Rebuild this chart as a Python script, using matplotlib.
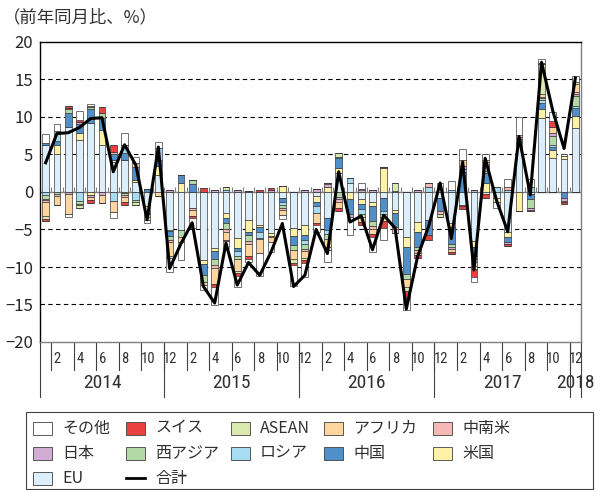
import numpy as np
import matplotlib
matplotlib.use("Agg")
import matplotlib.pyplot as plt
from matplotlib import font_manager
from matplotlib.patches import Rectangle
from matplotlib.lines import Line2D
import matplotlib.transforms as mtransforms

plt.rcParams['font.family'] = ['Noto Sans CJK JP', 'DejaVu Sans']

# narrow face for the category axis, if one is installed
installed = {f.name for f in font_manager.fontManager.ttflist}
narrow = 'Noto Sans CJK JP'
for cand in ['Liberation Sans Narrow', 'DejaVu Sans Condensed', 'Roboto Condensed']:
    if cand in installed:
        narrow = cand
        break

# months: Jan 2014 .. Dec 2017 (48 bars)
n_months = 48
month_labels = [str(i % 12 + 1) if (i % 12 + 1) % 2 == 0 else '' for i in range(n_months)]
years = ['2014', '2015', '2016', '2017', '2018']
year_edges = [-0.5, 10.5, 22.5, 34.5, 46.5, 47.5]

# contributions (percentage points), series listed from the bottom of the stack
eu = [6.2, 5.0, 8.7, 6.9, 9.2, 6.3, 4.0, 4.2, 1.3, -1.9, 2.3, -5.1,
      -5.1, -2.2, -9.1, -7.5, -2.8, -6.2, -3.7, -4.4, -5.5, -0.8, -4.8, -4.4,
      -0.5, -3.5, 2.5, 1.2, -0.9, -1.3, -0.8, -2.4, -6.0, -4.0, -3.7, -0.8,
      -4.2, -1.7, -6.6, -0.3, -0.8, -5.3, 6.7, -0.3, 9.8, 4.5, 4.4, 8.5]
usa = [0.0, 1.2, 0.0, 0.9, -0.4, 2.0, 0.2, -0.2, 0.3, -0.9, 1.2, -0.1,
       1.2, 0.0, -0.5, -0.4, -0.7, -1.3, -1.6, -0.3, -0.4, 0.8, -1.1, -1.3,
       -0.8, 0.7, 0.7, -1.0, -0.7, -0.6, 3.2, -0.4, -1.3, -1.3, 0.0, 0.0,
       -0.5, 0.0, -0.7, 1.2, -0.6, -0.7, -2.6, 0.0, 1.3, 1.1, 0.4, 1.6]
china = [0.3, 0.6, 1.8, 1.3, 1.8, 1.6, 0.9, 1.0, 1.7, 0.35, 0.7, -0.7,
         1.0, 1.1, -1.5, -1.1, -0.6, -0.4, -0.5, -0.7, 0.0, -0.5, -1.2, -0.7,
         -0.6, -1.6, 1.3, -2.0, -0.7, -2.0, -1.8, -1.9, -3.6, -2.0, -2.0, -1.8,
         -2.2, 2.7, -1.3, 1.3, 0.0, -0.7, 0.3, -0.6, 0.7, 0.4, -0.8, 1.1]
russia = [-0.4, 1.3, 0.0, -1.2, 0.0, 0.0, -1.2, 1.0, -1.1, 0.0, 1.6, 0.0,
          0.0, 0.0, 0.0, 0.0, 0.3, -0.7, 0.0, -0.7, 0.0, -0.5, 0.0, -0.5,
          -0.9, -0.5, 0.1, 0.6, -0.7, 0.0, -0.3, 0.0, 0.0, 0.0, 0.7, 0.0,
          0.3, 0.4, 0.0, 0.0, 0.6, 0.3, 0.0, 0.7, 0.4, 0.2, 0.0, 0.3]
west_asia = [-0.5, -0.3, 0.5, -0.4, 0.3, 0.6, 0.0, -0.2, -0.2, 0.0, 0.0, -0.5,
             -0.9, 0.5, -0.9, -0.7, -0.9, -0.3, -0.8, 0.0, -0.1, -0.3, -0.6, -0.7,
             0.0, -0.7, -0.7, 0.0, -0.4, -0.7, -0.5, 0.0, -0.7, -0.5, 0.0, 0.0,
             -0.4, 0.0, -0.4, 0.3, 0.0, 0.0, 0.0, -1.3, 0.3, 1.3, 0.0, 1.3]
japan = [-0.2, 0.0, -0.3, 0.2, -0.3, -0.4, 0.0, 0.0, 0.0, -0.2, 0.0, 0.25,
         0.1, 0.0, 0.0, 0.2, 0.0, 0.2, 0.1, -0.2, 0.2, 0.0, 0.0, 0.3,
         0.4, 0.3, -0.2, -0.3, 0.2, 0.3, 0.1, 0.1, 0.0, 0.2, 0.0, 0.0,
         -0.3, 0.4, 0.2, 0.6, 0.0, -0.2, 0.3, -0.2, 0.2, 0.3, -0.4, 0.2]
latin_america = [-0.3, -0.2, 0.2, -0.2, 0.2, 0.0, 0.2, -0.3, 0.0, 0.0, 0.0, -0.3,
                 0.0, -0.2, 0.0, -0.4, -0.3, 0.0, -0.3, 0.0, 0.0, -0.3, 0.0, -0.3,
                 0.0, 0.2, -0.4, 0.0, 0.2, -0.3, 0.0, -0.2, 0.0, -0.3, 0.5, -0.4,
                 0.0, -0.2, -0.4, 0.6, 0.0, 0.3, 0.3, -0.2, 0.0, 0.0, -0.2, 0.3]
africa = [-1.8, -1.2, -2.7, 0.0, -0.4, -1.1, -1.5, -0.6, 0.6, -0.4, -0.6, -1.8,
          -0.7, -0.8, -0.4, -2.2, -1.1, -1.6, -1.6, -1.8, -0.7, -0.7, -1.3, -0.9,
          -1.3, -1.1, -0.9, 0.0, -0.6, -0.7, -0.5, -0.6, -1.1, -0.3, 0.0, 0.0,
          -0.4, 0.7, -0.5, 0.3, 0.0, 0.0, 0.0, 0.0, 0.4, 0.9, 0.0, 1.1]
asean = [-0.4, 0.0, 0.0, -0.3, 0.0, 0.0, 0.0, 0.0, -0.4, -0.3, 0.0, -0.3,
         0.0, 0.0, 0.0, 0.0, 0.4, -0.3, 0.0, 0.0, 0.0, 0.0, -0.5, -0.3,
         0.0, -0.3, 0.6, 0.0, 0.0, 0.0, 0.0, 1.1, -0.5, 0.0, 0.0, -0.3,
         0.0, 0.0, -0.4, 0.0, 0.0, 0.0, 0.0, 0.0, 4.0, 0.0, 0.0, 0.3]
swiss = [-0.3, 0.0, 0.2, 0.3, -0.4, 0.8, 0.9, -0.4, 0.0, 0.0, 0.0, 0.0,
         0.0, -0.3, 0.5, -0.4, -0.2, -0.4, -0.4, 0.2, 0.3, 0.0, -0.3, -0.4,
         -0.3, 0.0, -0.4, 0.0, -0.4, -0.4, -0.9, 0.0, -0.9, -0.4, -0.7, 0.0,
         -0.3, -0.4, -1.0, -0.5, 0.0, -0.3, 0.0, 0.0, 0.1, 0.7, -0.2, 0.0]
others = [1.2, 0.9, -0.3, 1.2, 0.2, 0.0, -0.8, 1.6, 0.8, -0.5, 0.9, -1.9,
          -2.4, -1.3, -0.7, -2.4, -0.9, -1.5, -0.4, -3.1, -1.3, -0.5, -2.8, -1.8,
          -1.0, -1.6, 0.0, -2.4, 0.8, -2.0, -1.6, 0.0, -1.6, 0.0, 0.0, 1.2,
          1.2, 1.5, -0.7, 0.8, -0.8, 1.1, 2.4, 1.0, 0.5, 1.2, 0.3, 0.7]
total = [3.9, 7.8, 7.9, 8.6, 9.8, 9.9, 2.7, 6.3, 3.6, -3.7, 6.0, -10.2,
         -6.9, -4.1, -12.6, -14.8, -6.8, -12.4, -9.4, -11.1, -8.0, -4.2, -12.6, -11.1,
         -5.0, -8.2, 2.7, -4.0, -3.2, -7.7, -3.1, -4.8, -15.6, -8.6, -4.5, 1.2,
         -6.2, 4.0, -10.4, 4.5, -1.1, -5.3, 7.4, -0.4, 17.3, 10.8, 5.8, 15.2]

series = [
    ('EU', eu, '#dbeefa'),
    ('米国', usa, '#fff2a6'),
    ('中国', china, '#4f8fca'),
    ('ロシア', russia, '#a8dcf3'),
    ('西アジア', west_asia, '#b3d9a6'),
    ('日本', japan, '#d2acd4'),
    ('中南米', latin_america, '#f5b8b5'),
    ('アフリカ', africa, '#fcd59f'),
    ('ASEAN', asean, '#d9e9b0'),
    ('スイス', swiss, '#e8413f'),
    ('その他', others, '#ffffff'),
]

fig = plt.figure(figsize=(5.95, 4.9), dpi=100)
ax = fig.add_axes([40 / 595, 148 / 490, 541 / 595, 300 / 490])

x = np.arange(n_months)
pos_base = np.zeros(n_months)
neg_base = np.zeros(n_months)
for name, vals, col in series:
    v = np.array(vals, dtype=float)
    p = np.where(v > 0, v, 0)
    q = np.where(v < 0, v, 0)
    ax.bar(x, p, 0.6, bottom=pos_base, color=col, edgecolor='#3a3a3a', linewidth=0.5, zorder=3)
    ax.bar(x, q, 0.6, bottom=neg_base, color=col, edgecolor='#3a3a3a', linewidth=0.5, zorder=3)
    pos_base += p
    neg_base += q

ax.plot(x, total, color='black', linewidth=2.2, zorder=5)

# grid and frame
for yv in [-15, -10, -5, 5, 10, 15]:
    ax.axhline(yv, color='black', linewidth=0.8, linestyle=(0, (4, 3)), zorder=1)
ax.axhline(0, color='#7f7f7f', linewidth=1.0, zorder=2)
ax.vlines(np.arange(n_months + 1) - 0.5, 0, 0.6, color='#7f7f7f', linewidth=0.8, zorder=2)

ax.set_xlim(-0.5, n_months - 0.5)
ax.set_ylim(-20, 20)
ax.set_yticks(np.arange(-20, 21, 5))
ax.tick_params(axis='y', length=0, labelsize=12, pad=5, labelcolor='#262626')
ax.set_xticks([])
ax.spines['top'].set_color('black')
ax.spines['left'].set_color('black')
ax.spines['right'].set_color('#7f7f7f')
ax.spines['bottom'].set_color('#7f7f7f')
for s in ax.spines.values():
    s.set_linewidth(1.0)

# category axis below the plot
trans = mtransforms.blended_transform_factory(ax.transData, ax.transAxes)
for i, lab in enumerate(month_labels):
    if lab:
        ax.plot([i - 0.5, i - 0.5], [0, -0.093], transform=trans, color='#404040',
                linewidth=0.8, clip_on=False)
        ax.text(i + 0.05, -0.058, lab, transform=trans, ha='center', va='center',
                fontsize=10.5, family=narrow, color='#303030')
for e in year_edges:
    ax.plot([e, e], [0, -0.183], transform=trans, color='#404040', linewidth=0.8, clip_on=False)
for k, yr in enumerate(years):
    ax.text((year_edges[k] + year_edges[k + 1]) / 2, -0.137, yr, transform=trans,
            ha='center', va='center', fontsize=14, family=narrow, color='#303030')

fig.text(3 / 595, 1 - 17 / 490, '（前年同月比、%）', ha='left', va='center', fontsize=12.5, color='#303030')

# legend drawn by hand, five columns
legend_items = [('その他', '#ffffff'), ('スイス', '#e8413f'), ('ASEAN', '#d9e9b0'),
                ('アフリカ', '#fcd59f'), ('中南米', '#f5b8b5'),
                ('日本', '#d2acd4'), ('西アジア', '#b3d9a6'), ('ロシア', '#a8dcf3'),
                ('中国', '#4f8fca'), ('米国', '#fff2a6'),
                ('EU', '#dbeefa'), ('合計', None)]
col_x = [33, 126, 231, 324, 433]
row_y = [428, 453, 478]
fig.add_artist(Rectangle((26 / 595, 1 - 489 / 490), 567 / 595, 77 / 490,
                         transform=fig.transFigure, facecolor='white',
                         edgecolor='#404040', linewidth=0.8))
for k, (lab, col) in enumerate(legend_items):
    cx = col_x[k % 5]
    cy = row_y[k // 5]
    if col is None:
        fig.add_artist(Line2D([cx / 595, (cx + 19) / 595], [1 - cy / 490, 1 - cy / 490],
                              transform=fig.transFigure, color='black', linewidth=2))
    else:
        fig.add_artist(Rectangle((cx / 595, 1 - (cy + 6.5) / 490), 19 / 595, 13 / 490,
                                 transform=fig.transFigure, facecolor=col,
                                 edgecolor='#404040', linewidth=0.6))
    fig.text((cx + 29) / 595, 1 - cy / 490, lab, ha='left', va='center',
             fontsize=11.5, color='#303030')

fig.savefig('out.png', dpi=100)
